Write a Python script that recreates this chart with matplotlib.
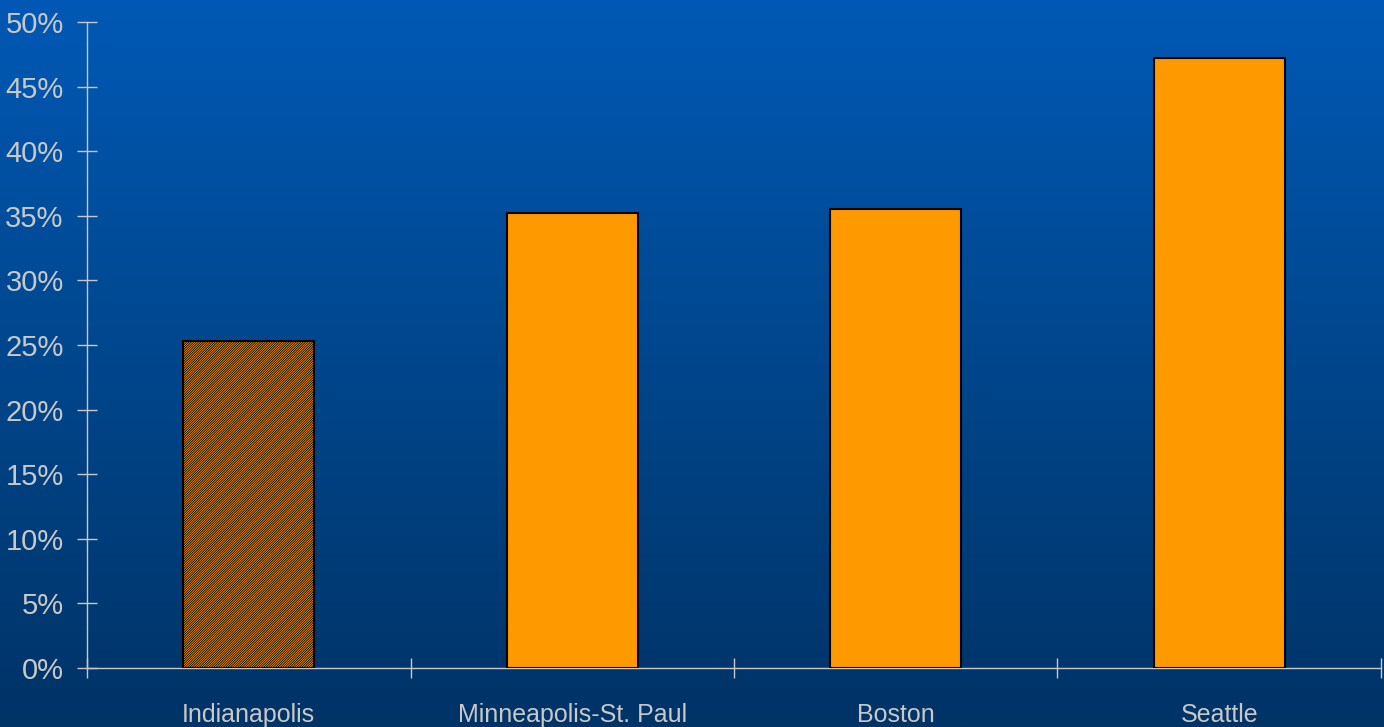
import numpy as np
import matplotlib.pyplot as plt
from matplotlib.colors import LinearSegmentedColormap

# Metro areas and their shares (%)
cities = ["Indianapolis", "Minneapolis-St. Paul", "Boston", "Seattle"]
shares = [25.3, 35.2, 35.5, 47.2]
hatches = ["/" * 14, "", "", ""]
yticks = [0, 5, 10, 15, 20, 25, 30, 35, 40, 45, 50]

text_color = "#c8c8c8"
plt.rcParams["font.family"] = ["Liberation Sans Narrow", "Liberation Sans", "DejaVu Sans"]
plt.rcParams["hatch.linewidth"] = 0.6

fig = plt.figure(figsize=(13.84, 7.27), dpi=100)

# blue gradient background over the whole figure
bg = fig.add_axes([0, 0, 1, 1], zorder=-1)
cmap = LinearSegmentedColormap.from_list("bg", ["#0059b5", "#00468c", "#003366"])
bg.imshow(np.linspace(0, 1, 256).reshape(-1, 1), aspect="auto", cmap=cmap,
          extent=[0, 1, 0, 1])
bg.set_axis_off()

ax = fig.add_axes([0.0629, 0.0812, 0.9349, 0.8885])
ax.patch.set_alpha(0)

x = np.arange(len(cities))
bars = ax.bar(x, shares, width=0.405, color="#ff9900", edgecolor="black",
              linewidth=1.5, zorder=3)
for b, h in zip(bars, hatches):
    b.set_hatch(h)

ax.set_xlim(-0.5, len(cities) - 0.5)
ax.set_ylim(0, 50)
ax.set_yticks(yticks)
ax.set_yticklabels([f"{t}%" for t in yticks])

ax.set_xticks(x)
ax.set_xticklabels(cities)
ax.set_xticks(np.arange(-0.5, len(cities), 1.0), minor=True)
ax.tick_params(axis="x", which="major", length=0, pad=25, labelsize=18,
               labelcolor=text_color)
ax.tick_params(axis="x", which="minor", direction="inout", length=14.4,
               width=1, color=text_color)
ax.tick_params(axis="y", direction="inout", length=13.7, width=1,
               color=text_color, labelsize=21, labelcolor=text_color, pad=10)

for side in ["top", "right"]:
    ax.spines[side].set_visible(False)
for side in ["left", "bottom"]:
    ax.spines[side].set_color(text_color)
    ax.spines[side].set_linewidth(1)

fig.savefig("out.png", dpi=100)
